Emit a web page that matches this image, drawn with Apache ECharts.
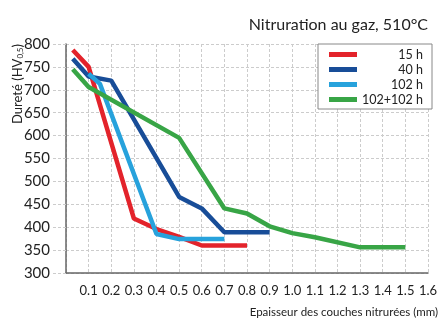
<!DOCTYPE html>
<html lang="fr">
<head>
  <meta charset="UTF-8">
  <title>Nitruration au gaz</title>
  <style>
    html,
    body {
      padding: 0;
      margin: 0;
      background: #fff;
    }
  </style>
  <script src="https://cdn.jsdelivr.net/npm/echarts@6/dist/echarts.min.js"></script>
</head>
<body>
  <div id="chart" style="width:441px;height:318px"></div>
  <script>
    // points [épaisseur mm, dureté HV0,5]
    const names = ['15 h', '40 h', '102 h', '102+102 h']
    const colors = ['#e3232b', '#184d98', '#27a2dc', '#38a546']
    const h15 = [[0.03, 787], [0.1, 750], [0.3, 419], [0.4, 396], [0.5, 379], [0.6, 360], [0.8, 360]]
    const h40 = [[0.03, 768], [0.1, 729], [0.2, 720], [0.5, 466], [0.6, 441], [0.7, 389], [0.9, 389]]
    const h102 = [[0.1, 735], [0.15, 713], [0.4, 385], [0.5, 374], [0.7, 374]]
    const h102x2 = [[0.03, 745], [0.1, 706], [0.5, 595], [0.7, 441], [0.8, 430], [0.9, 402], [1.0, 387], [1.1, 378], [1.3, 356], [1.5, 356]]
    const seriesData = [h15, h40, h102, h102x2]

    const font = 'Lato'
    const chart = echarts.init(document.getElementById('chart'))

    chart.setOption({
      animation: false,
      textStyle: { fontFamily: font },
      title: {
        text: 'Nitruration au gaz, 510°C',
        right: 8,
        top: 12,
        textStyle: { fontSize: 16, fontWeight: 'normal', color: '#222', fontFamily: font }
      },
      legend: {
        orient: 'vertical',
        right: 9,
        top: 44,
        icon: 'rect',
        itemWidth: 28,
        itemHeight: 5,
        itemGap: 2,
        padding: [4, 9, 3, 11],
        borderColor: '#888',
        borderWidth: 1,
        backgroundColor: '#fff',
        data: names,
        formatter: '{a|{name}}',
        textStyle: {
          color: '#222',
          rich: { a: { width: 61, align: 'right', fontSize: 12.5, lineHeight: 14, fontFamily: font } }
        }
      },
      grid: { left: 66, right: 9, top: 44, bottom: 45 },
      xAxis: {
        type: 'value',
        min: 0,
        max: 1.6,
        interval: 0.1,
        name: 'Epaisseur des couches nitrurées (mm)',
        nameLocation: 'end',
        nameGap: 10,
        nameTextStyle: { align: 'right', verticalAlign: 'top', padding: [33, 0, 0, 0], fontSize: 11.5, color: '#222' },
        axisLine: { lineStyle: { color: '#666', width: 1.5 } },
        axisTick: { show: false },
        axisLabel: {
          margin: 11,
          fontSize: 13,
          color: '#222',
          formatter: v => (v === 0 ? '' : v.toFixed(1))
        },
        splitLine: { lineStyle: { color: '#ccc', type: [3, 2] } }
      },
      yAxis: {
        type: 'value',
        min: 300,
        max: 800,
        interval: 50,
        axisLine: { show: true, lineStyle: { color: '#666', width: 1.5 } },
        axisTick: { show: true, length: 14, lineStyle: { color: '#ccc', type: [3, 2] } },
        axisLabel: { margin: 16, fontSize: 15, color: '#222' },
        splitLine: { lineStyle: { color: '#ccc', type: [3, 2] } }
      },
      graphic: [{
        type: 'text',
        x: 18,
        y: 84,
        rotation: Math.PI / 2,
        style: {
          text: '{t|Dureté (HV}{s|0,5}{t|)}',
          align: 'center',
          verticalAlign: 'middle',
          rich: {
            t: { fontSize: 13, fontFamily: font, fill: '#222' },
            s: { fontSize: 8, fontFamily: font, fill: '#222', padding: [5, 0, 0, 0] }
          }
        }
      }],
      series: seriesData.map((d, i) => ({
        name: names[i],
        type: 'line',
        data: d,
        showSymbol: false,
        color: colors[i],
        lineStyle: { width: 4.5, color: colors[i] }
      }))
    })
  </script>
</body>
</html>
